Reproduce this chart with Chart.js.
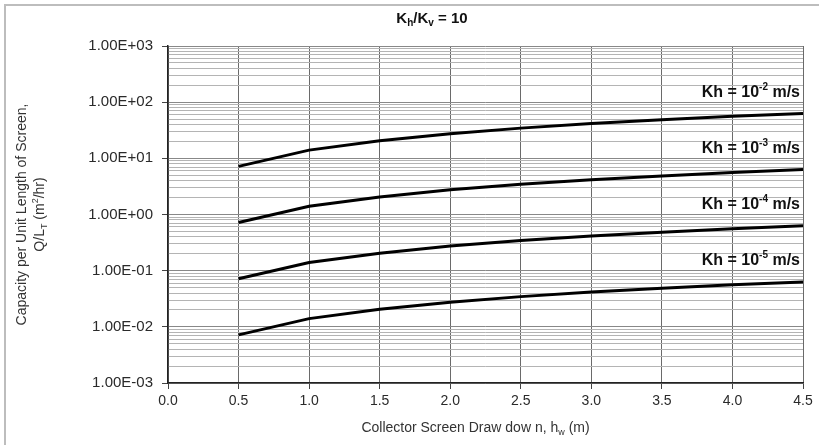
<!DOCTYPE html>
<html>
<head>
<meta charset="utf-8">
<script src="https://cdn.jsdelivr.net/npm/chart.js@4.4.1/dist/chart.umd.min.js"></script>
<style>
  html, body { margin: 0; padding: 0; background: #fff; }
  .chartDiv { width: 819px; height: 445px; position: relative; }
</style>
</head>
<body>
<div class="chartDiv"><canvas id="myChart"></canvas></div>
<script>
// drawdown h_w (m)
const drawdown = [0.5, 1.0, 1.5, 2.0, 2.5, 3.0, 3.5, 4.0, 4.5]
// capacity Q/L_T (m2/hr), one array per Kh
const kh1e2 = [7.2, 14, 20.5, 27.5, 34.5, 41.5, 48.5, 56, 63]
const kh1e3 = [0.72, 1.4, 2.05, 2.75, 3.45, 4.15, 4.85, 5.6, 6.3]
const kh1e4 = [0.072, 0.14, 0.205, 0.275, 0.345, 0.415, 0.485, 0.56, 0.63]
const kh1e5 = [0.0072, 0.014, 0.0205, 0.0275, 0.0345, 0.0415, 0.0485, 0.056, 0.063]
const khExponents = ['-2', '-3', '-4', '-5']
const yDecades = [1e-3, 1e-2, 1e-1, 1e0, 1e1, 1e2, 1e3]
const xTicks = [0.0, 0.5, 1.0, 1.5, 2.0, 2.5, 3.0, 3.5, 4.0, 4.5]

const FONT = '"Liberation Sans", Arial, sans-serif'
let myChart;

const toPoints = (ys) => drawdown.map((x, i) => ({ x: x, y: ys[i] }))

const sciLabel = (v) => {
  let e = Math.round(Math.log10(v))
  let sign = e < 0 ? '-' : '+'
  let d = String(Math.abs(e)).padStart(2, '0')
  return '1.00E' + sign + d
}

// draws text made of pieces, some sub/superscript
const drawRich = (ctx, parts, x, y, align, size, bold) => {
  const w = bold ? 'bold ' : ''
  let total = 0
  parts.forEach(p => {
    ctx.font = w + (p.s ? Math.round(size * 0.65) : size) + 'px ' + FONT
    p.w = ctx.measureText(p.t).width
    total += p.w
  })
  let cx = align === 'right' ? x - total : align === 'center' ? x - total / 2 : x
  ctx.textAlign = 'left'
  ctx.textBaseline = 'middle'
  parts.forEach(p => {
    ctx.font = w + (p.s ? Math.round(size * 0.65) : size) + 'px ' + FONT
    let dy = p.s === 'sub' ? size * 0.3 : p.s === 'sup' ? -size * 0.35 : 0
    ctx.fillText(p.t, cx, y + dy)
    cx += p.w
  })
}

const textPlugin = {
  id: 'textPlugin',
  afterDraw(chart) {
    const ctx = chart.ctx
    const area = chart.chartArea
    const xs = chart.scales.x
    const ys = chart.scales.y
    ctx.save()

    // outer frame
    ctx.strokeStyle = '#bdbdbd'
    ctx.lineWidth = 2
    ctx.strokeRect(5, 5, chart.width + 10, chart.height + 10)

    ctx.fillStyle = '#111'
    drawRich(ctx, [{ t: 'K' }, { t: 'h', s: 'sub' }, { t: '/K' }, { t: 'v', s: 'sub' }, { t: ' = 10' }],
      432, 19, 'center', 15, true)

    // curve labels
    const sets = [kh1e2, kh1e3, kh1e4, kh1e5]
    sets.forEach((s, i) => {
      let last = s[s.length - 1]
      let px = xs.getPixelForValue(drawdown[drawdown.length - 1]) - 3
      let py = ys.getPixelForValue(last) - 21
      drawRich(ctx, [{ t: 'Kh = 10' }, { t: khExponents[i], s: 'sup' }, { t: ' m/s' }], px, py, 'right', 16, true)
    })

    // axis titles
    ctx.fillStyle = '#333'
    drawRich(ctx, [{ t: 'Collector Screen Draw dow n, h' }, { t: 'w', s: 'sub' }, { t: ' (m)' }],
      (area.left + area.right) / 2 - 10, 428, 'center', 14, false)

    ctx.translate(0, (area.top + area.bottom) / 2)
    ctx.rotate(-Math.PI / 2)
    drawRich(ctx, [{ t: 'Capacity per Unit Length of Screen,' }], 0, 22, 'center', 14, false)
    drawRich(ctx, [{ t: 'Q/L' }, { t: 'T', s: 'sub' }, { t: ' (m' }, { t: '2', s: 'sup' }, { t: '/hr)' }], 0, 40, 'center', 14, false)
    ctx.restore()
  }
}

const makeChart = () => {
  const lineStyle = { borderColor: '#000', borderWidth: 3, pointRadius: 0, tension: 0, fill: false }
  const data = {
    datasets: [
      Object.assign({ label: 'Kh = 1e-2', data: toPoints(kh1e2) }, lineStyle),
      Object.assign({ label: 'Kh = 1e-3', data: toPoints(kh1e3) }, lineStyle),
      Object.assign({ label: 'Kh = 1e-4', data: toPoints(kh1e4) }, lineStyle),
      Object.assign({ label: 'Kh = 1e-5', data: toPoints(kh1e5) }, lineStyle)
    ]
  }

  const config = {
    type: 'line',
    data: data,
    plugins: [textPlugin],
    options: {
      responsive: true,
      maintainAspectRatio: false,
      animation: false,
      layout: { padding: { top: 46, right: 16, left: 0, bottom: 0 } },
      plugins: { legend: { display: false }, tooltip: { enabled: false }, title: { display: false } },
      scales: {
        x: {
          type: 'linear',
          min: 0,
          max: 4.5,
          afterBuildTicks: (scale) => { scale.ticks = xTicks.map(v => ({ value: v })) },
          afterFit: (scale) => { scale.height = 62 },
          ticks: {
            callback: (v) => Number(v).toFixed(1),
            color: '#2a2a2a',
            font: { family: FONT, size: 14 },
            padding: 4,
            maxRotation: 0
          },
          grid: { color: '#6a6a6a', lineWidth: 1, tickLength: 6, tickColor: '#444' },
          border: { color: '#222', width: 1.5 }
        },
        y: {
          type: 'logarithmic',
          min: yDecades[0],
          max: yDecades[yDecades.length - 1],
          afterBuildTicks: (scale) => {
            let t = []
            yDecades.forEach((d, i) => {
              t.push({ value: d, major: true })
              if (i < yDecades.length - 1) {
                for (let m = 2; m <= 9; m++) t.push({ value: d * m, major: false })
              }
            })
            scale.ticks = t
          },
          afterFit: (scale) => { scale.width = 168 },
          ticks: {
            autoSkip: false,
            callback: function (v, i, ticks) {
              return ticks[i].major ? sciLabel(v) : ''
            },
            color: '#2a2a2a',
            font: { family: FONT, size: 15 },
            padding: 9
          },
          grid: {
            color: (c) => c.tick && c.tick.major ? '#888' : '#b4b4b4',
            lineWidth: 1,
            tickLength: 6,
            tickColor: (c) => c.tick && c.tick.major ? '#444' : 'rgba(0,0,0,0)'
          },
          border: { color: '#222', width: 1.5 }
        }
      }
    }
  }

  myChart = new Chart(document.getElementById('myChart'), config)
}

makeChart()
</script>
</body>
</html>
